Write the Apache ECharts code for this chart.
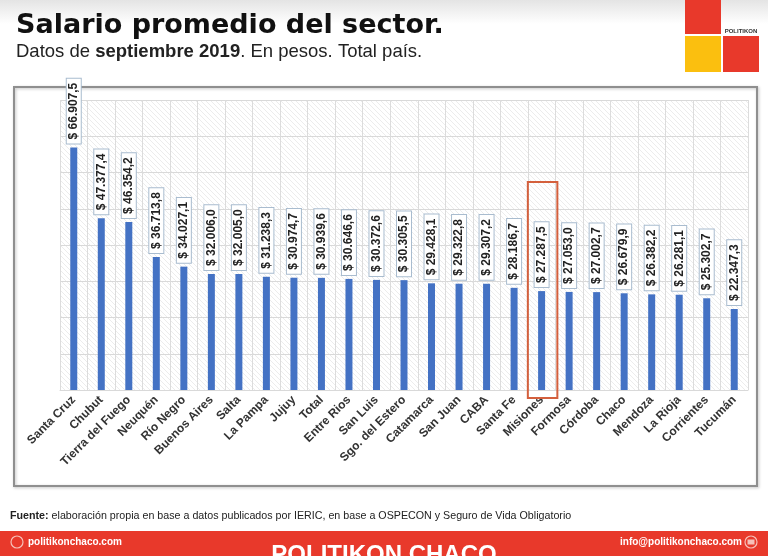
<!DOCTYPE html>
<html>
<head>
<meta charset="utf-8">
<script src="https://cdn.jsdelivr.net/npm/echarts@6/dist/echarts.min.js"></script>
<style>
html,body{margin:0;padding:0;background:#fff;}
#chart{width:768px;height:556px;}
</style>
</head>
<body>
<div id="chart"></div>
<script>
const categories = ["Santa Cruz","Chubut","Tierra del Fuego","Neuquén","Río Negro","Buenos Aires","Salta","La Pampa","Jujuy","Total","Entre Rios","San Luis","Sgo. del Estero","Catamarca","San Juan","CABA","Santa Fe","Misiones","Formosa","Córdoba","Chaco","Mendoza","La Rioja","Corrientes","Tucumán"];
const salaries = [66907.5,47377.4,46354.2,36713.8,34027.1,32006.0,32005.0,31238.3,30974.7,30939.6,30646.6,30372.6,30305.5,29428.1,29322.8,29307.2,28186.7,27287.5,27053.0,27002.7,26679.9,26382.2,26281.1,25302.7,22347.3];
const highlighted = "Misiones";
const yMax = 80000;
const yStep = 10000;

function fmt(v){
  const parts = v.toFixed(1).split('.');
  const intPart = parts[0].replace(/\B(?=(\d{3})+(?!\d))/g, '.');
  return '$ ' + intPart + ',' + parts[1];
}

// hatch pattern for plot background
const pc = document.createElement('canvas');
pc.width = 5; pc.height = 5;
const pctx = pc.getContext('2d');
pctx.fillStyle = '#ffffff';
pctx.fillRect(0,0,5,5);
pctx.strokeStyle = '#ececec';
pctx.lineWidth = 1;
pctx.beginPath();
pctx.moveTo(0,0); pctx.lineTo(5,5);
pctx.stroke();

const FF = '"Liberation Sans", Arial, sans-serif';
const FT = '"DejaVu Sans", "Liberation Sans", sans-serif';
const chart = echarts.init(document.getElementById('chart'), null, {renderer:'canvas'});

const option = {
  backgroundColor: '#ffffff',
  animation: false,
  title: {
    text: 'Salario promedio del sector.',
    subtext: 'Datos de {b|septiembre 2019}. En pesos. Total país.',
    left: 11, top: 7,
    itemGap: 3,
    textStyle: {fontFamily: FT, fontSize: 27, fontWeight: 'bold', color: '#111'},
    subtextStyle: {fontFamily: FF, fontSize: 18.5, color: '#222',
      rich: {b: {fontFamily: FF, fontSize: 18.5, fontWeight: 'bold', color: '#222'}}}
  },
  grid: {left: 60, right: 20, top: 100, bottom: 166, show: true,
    backgroundColor: {image: pc, repeat: 'repeat'}, borderWidth: 0},
  xAxis: {
    type: 'category',
    data: categories,
    axisLine: {show: true, lineStyle: {color: '#d9d9d9'}},
    axisTick: {show: false},
    splitLine: {show: true, lineStyle: {color: '#dcdcdc', width: 1}},
    axisLabel: {interval: 0, rotate: 45, margin: 8, fontFamily: FF, fontSize: 12,
      fontWeight: 'bold', color: '#333'}
  },
  yAxis: {
    type: 'value', min: 0, max: yMax, interval: yStep,
    axisLabel: {show: false}, axisLine: {show: false}, axisTick: {show: false},
    splitLine: {show: true, lineStyle: {color: '#d9d9d9', width: 1}}
  },
  series: [{
    type: 'bar',
    data: salaries,
    barWidth: 7,
    itemStyle: {color: '#4472c4'},
    label: {
      show: true, position: 'top', rotate: 90, distance: 4,
      align: 'left', verticalAlign: 'middle',
      formatter: p => fmt(p.value),
      fontFamily: FF, fontSize: 12, fontWeight: 'bold', color: '#222',
      backgroundColor: '#ffffff', borderColor: '#a9bccf', borderWidth: 1,
      padding: [2, 4, 0, 4], lineHeight: 12
    }
  }]
};
chart.setOption(option);

// highlight box around Misiones
const cx = chart.convertToPixel({xAxisIndex: 0}, highlighted);
const band = 688 / categories.length;
const topY = chart.convertToPixel({yAxisIndex: 0}, 57400);
const botY = chart.convertToPixel({yAxisIndex: 0}, -2200);

chart.setOption({
  graphic: [
    {type: 'rect', left: 0, top: 0, z: -10, silent: true,
      shape: {width: 768, height: 24},
      style: {fill: new echarts.graphic.LinearGradient(0,0,0,1,[{offset:0,color:'#e4e4e4'},{offset:1,color:'#ffffff'}])}},
    // chart frame
    {type: 'rect', z: 0, silent: true,
      shape: {x: 14, y: 87, width: 743, height: 399},
      style: {fill: 'none', stroke: '#8f8f8f', lineWidth: 2, shadowBlur: 3, shadowColor: 'rgba(0,0,0,0.25)', shadowOffsetX: 1, shadowOffsetY: 1}},
    {type: 'rect', z: 10, silent: true,
      shape: {x: cx - band/2, y: topY, width: band + 2, height: botY - topY},
      style: {fill: 'none', stroke: '#d4603d', lineWidth: 2}},
    // logo
    {type: 'rect', shape: {x: 685, y: 0, width: 36, height: 34}, style: {fill: '#e8392b'}},
    {type: 'rect', shape: {x: 685, y: 36, width: 36, height: 36}, style: {fill: '#fbbf0f'}},
    {type: 'rect', shape: {x: 723, y: 36, width: 36, height: 36}, style: {fill: '#e8392b'}},
    {type: 'text', style: {x: 741, y: 31, text: 'POLITIKON', fill: '#333', font: 'bold 6px ' + FF, textAlign: 'center', textVerticalAlign: 'middle'}},
    // source
    {type: 'text', style: {x: 10, y: 516, text: '{b|Fuente:} elaboración propia en base a datos publicados por IERIC, en base a OSPECON y Seguro de Vida Obligatorio',
      fill: '#222', font: '10.7px ' + FF, textVerticalAlign: 'middle',
      rich: {b: {fontWeight: 'bold', fontSize: 10.7, fontFamily: FF, fill: '#222'}}}},
    // red footer
    {type: 'rect', shape: {x: 0, y: 531, width: 768, height: 25}, style: {fill: '#e8392b'}},
    {type: 'circle', shape: {cx: 17, cy: 542, r: 6}, style: {fill: 'none', stroke: '#f6c0b8', lineWidth: 1.2}},
    {type: 'text', style: {x: 28, y: 542, text: 'politikonchaco.com', fill: '#ffffff', font: 'bold 10px ' + FF, textVerticalAlign: 'middle'}},
    {type: 'text', style: {x: 384, y: 543, text: 'POLITIKON CHACO', fill: '#ffffff', font: 'bold 24px ' + FF, textAlign: 'center', textVerticalAlign: 'top'}},
    {type: 'text', style: {x: 742, y: 542, text: 'info@politikonchaco.com', fill: '#ffffff', font: 'bold 10px ' + FF, textAlign: 'right', textVerticalAlign: 'middle'}},
    {type: 'circle', shape: {cx: 751, cy: 542, r: 6}, style: {fill: 'none', stroke: '#f6c0b8', lineWidth: 1.2}},
    {type: 'rect', shape: {x: 747.5, y: 539.5, width: 7, height: 5}, style: {fill: '#f6c0b8'}}
  ]
});
</script>
</body>
</html>
